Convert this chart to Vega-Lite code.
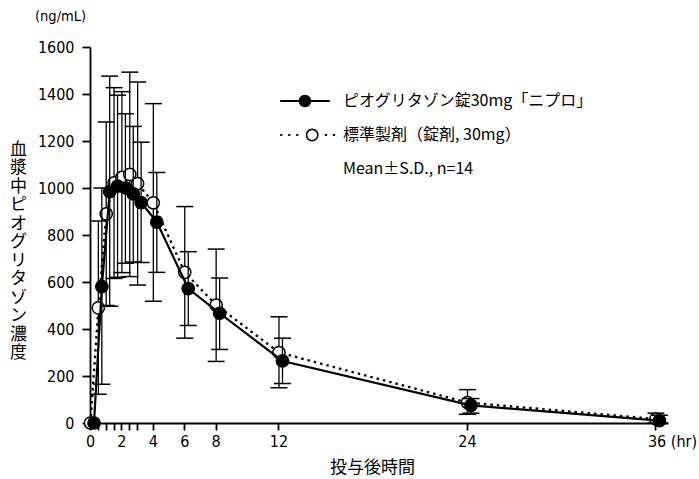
{
  "$schema": "https://vega.github.io/schema/vega-lite/v6.json",
  "width": 578,
  "height": 376,
  "autosize": {"type": "none"},
  "padding": {"left": 90, "top": 47, "right": 31, "bottom": 56},
  "background": "white",
  "title": {"text": "(ng/mL)", "anchor": "start", "frame": "group", "dx": -55, "offset": 15, "fontSize": 14.5, "font": "Liberation Sans Narrow, DejaVu Sans Condensed, sans-serif", "fontWeight": "normal", "color": "black"},
  "config": {
    "view": {"stroke": null},
    "axisX": {"domainColor": "black", "domainWidth": 1.8, "tickColor": "black", "tickWidth": 1.8, "tickSize": 7, "labelFont": "Liberation Sans Narrow, DejaVu Sans Condensed, sans-serif", "labelFontSize": 16, "labelColor": "black", "labelPadding": 3, "grid": false, "labelFlush": false, "labelOverlap": false, "titleFont": "Noto Sans CJK JP", "titleFontSize": 17, "titleFontWeight": "normal", "titleColor": "black"},
    "axisY": {"domainColor": "black", "domainWidth": 1.8, "tickColor": "black", "tickWidth": 1.8, "tickSize": 8, "labelFont": "Liberation Sans Narrow, DejaVu Sans Condensed, sans-serif", "labelFontSize": 16, "labelColor": "black", "labelPadding": 8, "grid": false, "labelOverlap": false, "titleFont": "Noto Sans CJK JP", "titleFontSize": 17, "titleFontWeight": "normal", "titleColor": "black"}
  },
  "data": {"values": [
    {"s": "ピオグリタゾン錠30mg「ニプロ」", "t": 0, "m": 0, "lo": 0, "hi": 0},
    {"s": "ピオグリタゾン錠30mg「ニプロ」", "t": 0.5, "m": 580, "lo": 165, "hi": 1000},
    {"s": "ピオグリタゾン錠30mg「ニプロ」", "t": 1, "m": 985, "lo": 497, "hi": 1476},
    {"s": "ピオグリタゾン錠30mg「ニプロ」", "t": 1.5, "m": 1008, "lo": 620, "hi": 1395},
    {"s": "ピオグリタゾン錠30mg「ニプロ」", "t": 2, "m": 1000, "lo": 680, "hi": 1316},
    {"s": "ピオグリタゾン錠30mg「ニプロ」", "t": 2.5, "m": 975, "lo": 685, "hi": 1262},
    {"s": "ピオグリタゾン錠30mg「ニプロ」", "t": 3, "m": 938, "lo": 683, "hi": 1195},
    {"s": "ピオグリタゾン錠30mg「ニプロ」", "t": 4, "m": 855, "lo": 641, "hi": 1066},
    {"s": "ピオグリタゾン錠30mg「ニプロ」", "t": 6, "m": 572, "lo": 415, "hi": 729},
    {"s": "ピオグリタゾン錠30mg「ニプロ」", "t": 8, "m": 467, "lo": 313, "hi": 617},
    {"s": "ピオグリタゾン錠30mg「ニプロ」", "t": 12, "m": 264, "lo": 168, "hi": 361},
    {"s": "ピオグリタゾン錠30mg「ニプロ」", "t": 24, "m": 75, "lo": 42, "hi": 104},
    {"s": "ピオグリタゾン錠30mg「ニプロ」", "t": 36, "m": 10, "lo": 0, "hi": 33},
    {"s": "標準製剤（錠剤, 30mg）", "t": 0, "m": 0, "lo": 0, "hi": 0},
    {"s": "標準製剤（錠剤, 30mg）", "t": 0.5, "m": 490, "lo": 122, "hi": 860},
    {"s": "標準製剤（錠剤, 30mg）", "t": 1, "m": 890, "lo": 500, "hi": 1281},
    {"s": "標準製剤（錠剤, 30mg）", "t": 1.5, "m": 1022, "lo": 615, "hi": 1427},
    {"s": "標準製剤（錠剤, 30mg）", "t": 2, "m": 1045, "lo": 640, "hi": 1410},
    {"s": "標準製剤（錠剤, 30mg）", "t": 2.5, "m": 1058, "lo": 623, "hi": 1493},
    {"s": "標準製剤（錠剤, 30mg）", "t": 3, "m": 1019, "lo": 587, "hi": 1451},
    {"s": "標準製剤（錠剤, 30mg）", "t": 4, "m": 937, "lo": 518, "hi": 1359},
    {"s": "標準製剤（錠剤, 30mg）", "t": 6, "m": 641, "lo": 361, "hi": 921},
    {"s": "標準製剤（錠剤, 30mg）", "t": 8, "m": 502, "lo": 262, "hi": 740},
    {"s": "標準製剤（錠剤, 30mg）", "t": 12, "m": 300, "lo": 150, "hi": 452},
    {"s": "標準製剤（錠剤, 30mg）", "t": 24, "m": 87, "lo": 37, "hi": 142},
    {"s": "標準製剤（錠剤, 30mg）", "t": 36, "m": 17, "lo": 0, "hi": 42}
  ]},
  "encoding": {
    "x": {"field": "t", "type": "quantitative", "scale": {"domain": [0, 36.8], "nice": false, "zero": false},
      "axis": {"values": [0, 0.5, 1, 1.5, 2, 2.5, 3, 4, 6, 8, 12, 24, 36],
        "labelExpr": "datum.value === 36 ? '36 (hr)' : (indexof([0, 2, 4, 6, 8, 12, 24], datum.value) >= 0 ? datum.label : '')",
        "labelAlign": {"condition": {"test": "datum.value === 36", "value": "left"}, "value": "center"},
        "labelOffset": {"condition": {"test": "datum.value === 36", "value": -8}, "value": 0},
        "title": "投与後時間", "titleX": 282, "titleY": 44, "titleBaseline": "middle"}}
  },
  "layer": [
    {
      "transform": [{"filter": "datum.s === '標準製剤（錠剤, 30mg）'"}],
      "layer": [
        {"transform": [{"filter": "datum.t > 0"}], "mark": {"type": "rule", "color": "black", "strokeWidth": 1.3, "xOffset": 0.5},
          "encoding": {"y": {"field": "lo", "type": "quantitative", "scale": {"domain": [0, 1600], "nice": false}}, "y2": {"field": "hi"}}},
        {"transform": [{"filter": "datum.t > 0"}], "mark": {"type": "tick", "orient": "horizontal", "size": 17, "thickness": 1.5, "color": "black", "opacity": 1, "xOffset": 0.5},
          "encoding": {"y": {"field": "lo", "type": "quantitative", "scale": {"domain": [0, 1600], "nice": false}}}},
        {"transform": [{"filter": "datum.t > 0"}], "mark": {"type": "tick", "orient": "horizontal", "size": 17, "thickness": 1.5, "color": "black", "opacity": 1, "xOffset": 0.5},
          "encoding": {"y": {"field": "hi", "type": "quantitative", "scale": {"domain": [0, 1600], "nice": false}}}},
        {"mark": {"type": "line", "color": "black", "strokeWidth": 2.3, "strokeDash": [2.5, 4], "xOffset": 0.5},
          "encoding": {"y": {"field": "m", "type": "quantitative", "scale": {"domain": [0, 1600], "nice": false}}}},
        {"mark": {"type": "point", "filled": true, "size": 150, "stroke": "black", "strokeWidth": 1.5, "opacity": 1, "xOffset": 0.5},
          "encoding": {
            "y": {"field": "m", "type": "quantitative", "scale": {"domain": [0, 1600], "nice": false}},
            "fill": {"field": "s", "type": "nominal", "legend": null,
              "scale": {"domain": ["ピオグリタゾン錠30mg「ニプロ」", "標準製剤（錠剤, 30mg）"], "range": ["black", "white"]}}
          }}
      ]
    },
    {
      "transform": [{"filter": "datum.s === 'ピオグリタゾン錠30mg「ニプロ」'"}],
      "layer": [
        {"transform": [{"filter": "datum.t > 0"}], "mark": {"type": "rule", "color": "black", "strokeWidth": 1.3, "xOffset": 4},
          "encoding": {"y": {"field": "lo", "type": "quantitative", "scale": {"domain": [0, 1600], "nice": false}}, "y2": {"field": "hi"}}},
        {"transform": [{"filter": "datum.t > 0"}], "mark": {"type": "tick", "orient": "horizontal", "size": 17, "thickness": 1.5, "color": "black", "opacity": 1, "xOffset": 4},
          "encoding": {"y": {"field": "lo", "type": "quantitative", "scale": {"domain": [0, 1600], "nice": false}}}},
        {"transform": [{"filter": "datum.t > 0"}], "mark": {"type": "tick", "orient": "horizontal", "size": 17, "thickness": 1.5, "color": "black", "opacity": 1, "xOffset": 4},
          "encoding": {"y": {"field": "hi", "type": "quantitative", "scale": {"domain": [0, 1600], "nice": false}}}},
        {"mark": {"type": "line", "color": "black", "strokeWidth": 2.2, "xOffset": 4},
          "encoding": {"y": {"field": "m", "type": "quantitative", "scale": {"domain": [0, 1600], "nice": false}}}},
        {"mark": {"type": "point", "filled": true, "size": 150, "stroke": "black", "strokeWidth": 1.5, "opacity": 1, "xOffset": 4},
          "encoding": {
            "y": {"field": "m", "type": "quantitative", "scale": {"domain": [0, 1600], "nice": false},
              "axis": {"values": [0, 200, 400, 600, 800, 1000, 1200, 1400, 1600], "format": "d",
                "title": ["血", "漿", "中", "ピ", "オ", "グ", "リ", "タ", "ゾ", "ン", "濃", "度"],
                "titleAngle": 0, "titleX": -72, "titleY": 94, "titleBaseline": "top", "titleAlign": "center", "titleLineHeight": 18.5}},
            "fill": {"field": "s", "type": "nominal", "legend": null,
              "scale": {"domain": ["ピオグリタゾン錠30mg「ニプロ」", "標準製剤（錠剤, 30mg）"], "range": ["black", "white"]}}
          }}
      ]
    },
    {
      "transform": [{"filter": "datum.t < 0"}],
      "mark": {"type": "point", "filled": true, "color": "black", "strokeWidth": 0},
      "encoding": {
        "y": {"field": "m", "type": "quantitative", "scale": {"domain": [0, 1600], "nice": false}},
        "shape": {"field": "s", "type": "nominal",
          "scale": {"domain": ["ピオグリタゾン錠30mg「ニプロ」", "標準製剤（錠剤, 30mg）", "Mean±S.D., n=14"],
            "range": [
              "M-3.1,-0.13H3.1V0.13H-3.1ZM0.78,0A0.78,0.78,0,1,1,-0.78,0A0.78,0.78,0,1,1,0.78,0Z",
              "M-3.1,-0.13h0.26v0.26h-0.26ZM-2.1,-0.13h0.26v0.26h-0.26ZM-1.1,-0.13h0.26v0.26h-0.26ZM2.5,-0.13h0.26v0.26h-0.26ZM3.5,-0.13h0.26v0.26h-0.26ZM1.7,0A0.8,0.8,0,1,1,0.1,0A0.8,0.8,0,1,1,1.7,0ZM1.5,0A0.6,0.6,0,1,0,0.3,0A0.6,0.6,0,1,0,1.5,0Z",
              "M0,0Z"
            ]},
          "legend": {"orient": "none", "legendX": 207, "legendY": 46, "symbolSize": 256, "labelOffset": 30, "rowPadding": 18, "padding": 0, "offset": 0,
            "symbolOpacity": 1, "symbolFillColor": "black", "symbolStrokeWidth": 0, "symbolStrokeColor": "black",
            "labelFont": "Noto Sans CJK JP", "labelFontSize": 16, "labelColor": "black", "labelLimit": 400,
            "title": null}}
      }
    }
  ]
}
